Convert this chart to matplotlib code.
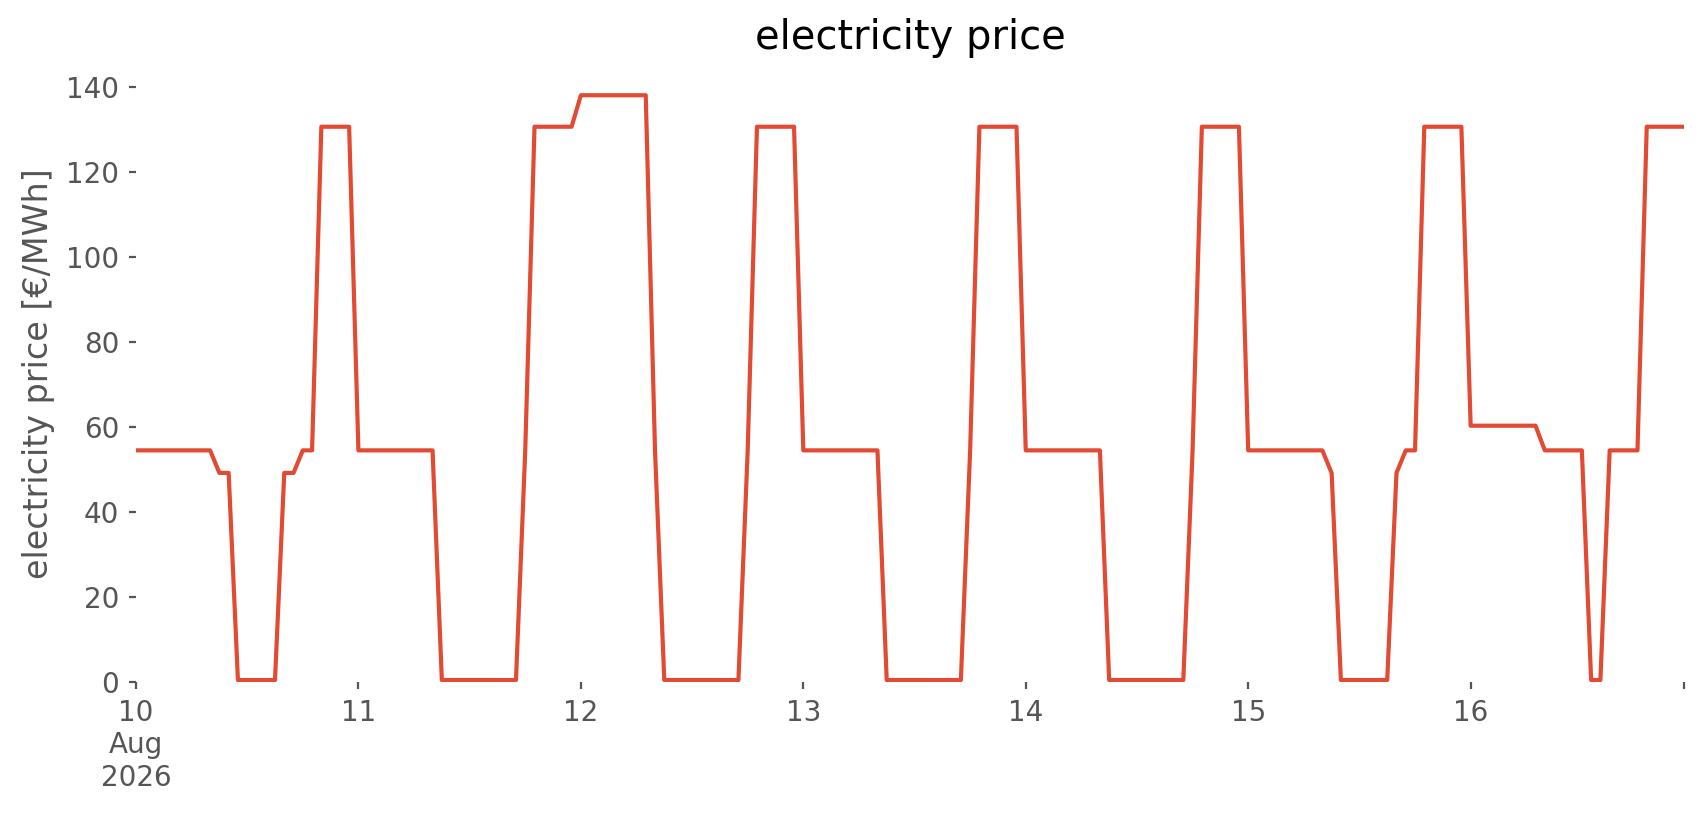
import matplotlib.pyplot as plt
import pandas as pd

# hourly electricity price [€/MWh], one list per day (00:00 .. 23:00)
aug10 = [54.5, 54.5, 54.5, 54.5, 54.5, 54.5, 54.5, 54.5, 54.5, 49.2, 49.2, 0.5,
         0.5, 0.5, 0.5, 0.5, 49.2, 49.2, 54.5, 54.5, 130.6, 130.6, 130.6, 130.6]
aug11 = [54.5, 54.5, 54.5, 54.5, 54.5, 54.5, 54.5, 54.5, 54.5, 0.5, 0.5, 0.5,
         0.5, 0.5, 0.5, 0.5, 0.5, 0.5, 54.5, 130.6, 130.6, 130.6, 130.6, 130.6]
aug12 = [138.0, 138.0, 138.0, 138.0, 138.0, 138.0, 138.0, 138.0, 54.5, 0.5, 0.5, 0.5,
         0.5, 0.5, 0.5, 0.5, 0.5, 0.5, 54.5, 130.6, 130.6, 130.6, 130.6, 130.6]
aug13 = [54.5, 54.5, 54.5, 54.5, 54.5, 54.5, 54.5, 54.5, 54.5, 0.5, 0.5, 0.5,
         0.5, 0.5, 0.5, 0.5, 0.5, 0.5, 54.5, 130.6, 130.6, 130.6, 130.6, 130.6]
aug14 = [54.5, 54.5, 54.5, 54.5, 54.5, 54.5, 54.5, 54.5, 54.5, 0.5, 0.5, 0.5,
         0.5, 0.5, 0.5, 0.5, 0.5, 0.5, 54.5, 130.6, 130.6, 130.6, 130.6, 130.6]
aug15 = [54.5, 54.5, 54.5, 54.5, 54.5, 54.5, 54.5, 54.5, 54.5, 49.2, 0.5, 0.5,
         0.5, 0.5, 0.5, 0.5, 49.2, 54.5, 54.5, 130.6, 130.6, 130.6, 130.6, 130.6]
aug16 = [60.3, 60.3, 60.3, 60.3, 60.3, 60.3, 60.3, 60.3, 54.5, 54.5, 54.5, 54.5,
         54.5, 0.5, 0.5, 54.5, 54.5, 54.5, 54.5, 130.6, 130.6, 130.6, 130.6, 130.6]

day_labels = ["10\nAug\n2026", "11", "12", "13", "14", "15", "16"]

prices = aug10 + aug11 + aug12 + aug13 + aug14 + aug15 + aug16
times = pd.date_range("2026-08-10 00:00", periods=len(prices), freq="h")

plt.style.use("ggplot")
fig = plt.figure(figsize=(8.53, 4.075), dpi=200)
ax = fig.add_axes([0.0797, 0.163, 0.9073, 0.756])
ax.set_facecolor("white")
ax.grid(False)
for s in ax.spines.values():
    s.set_visible(False)

ax.plot(times, prices, color="#E24A33", linewidth=1.5)

ax.set_xlim(times[0], times[-1])
ax.set_ylim(bottom=0)
ax.set_yticks([0, 20, 40, 60, 80, 100, 120, 140])

day_ticks = list(pd.date_range("2026-08-10", periods=7, freq="D")) + [times[-1]]
ax.set_xticks(day_ticks)
ax.set_xticklabels(day_labels + [""])
ax.tick_params(axis="both", length=2.5, colors="#555555", labelsize=10)

ax.set_ylabel("electricity price [€/MWh]", fontsize=12, color="#555555")
ax.set_title("electricity price", fontsize=14.4)

fig.savefig("out.png", dpi=200)
